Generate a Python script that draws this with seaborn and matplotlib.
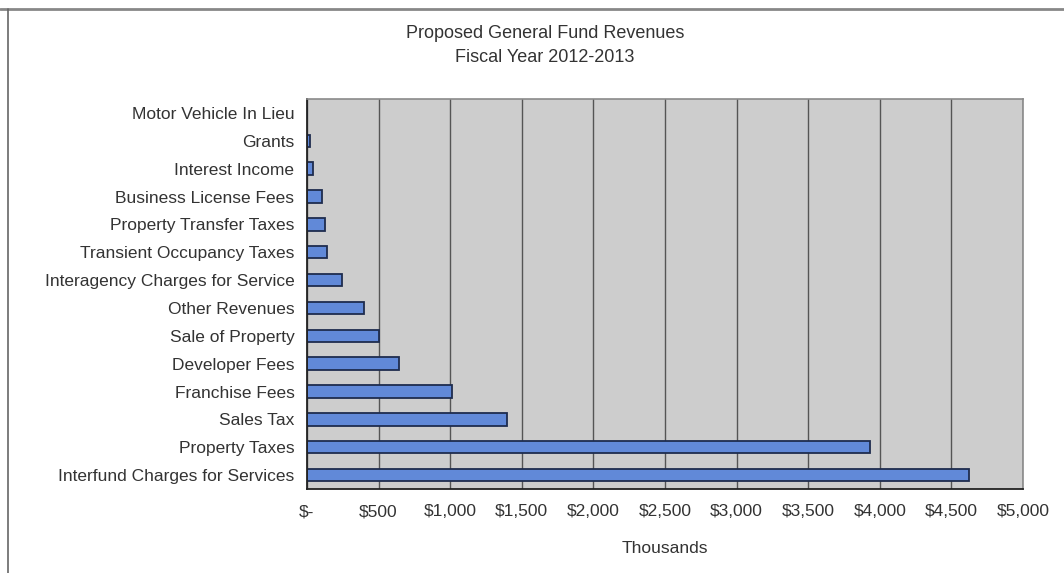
import matplotlib
matplotlib.use("Agg")
import matplotlib.pyplot as plt
from matplotlib.lines import Line2D
from matplotlib.ticker import FixedLocator
import seaborn as sns
import pandas as pd
import numpy as np

# Revenue sources (top to bottom) and proposed amounts, in thousands of dollars
categories = [
    "Motor Vehicle In Lieu",
    "Grants",
    "Interest Income",
    "Business License Fees",
    "Property Transfer Taxes",
    "Transient Occupancy Taxes",
    "Interagency Charges for Service",
    "Other Revenues",
    "Sale of Property",
    "Developer Fees",
    "Franchise Fees",
    "Sales Tax",
    "Property Taxes",
    "Interfund Charges for Services",
]
amounts = [2, 21, 42, 105, 126, 140, 244, 398, 503, 642, 1013, 1395, 3931, 4623]

x_ticks = [0, 500, 1000, 1500, 2000, 2500, 3000, 3500, 4000, 4500, 5000]
x_tick_labels = ["$-", "$500", "$1,000", "$1,500", "$2,000", "$2,500",
                 "$3,000", "$3,500", "$4,000", "$4,500", "$5,000"]

title_lines = ["Proposed General Fund Revenues", "Fiscal Year 2012-2013"]
x_label = "Thousands"

df = pd.DataFrame({"source": categories, "amount": amounts})

sns.set_style("white")
plt.rcParams["font.family"] = ["Liberation Sans", "DejaVu Sans"]

fig = plt.figure(figsize=(10.64, 5.73), dpi=100)
ax = fig.add_axes([0.2885, 0.1466, 0.6730, 0.6806])

sns.barplot(data=df, x="amount", y="source", orient="h", ax=ax,
            color="#6189d8", edgecolor="#1e2c4e", linewidth=1.3,
            width=0.45, saturation=1)

ax.set_facecolor("#cdcdcd")
ax.set_xlim(0, 5000)
ax.set_ylim(len(categories) - 0.5, -0.5)

# vertical gridlines behind bars
ax.set_axisbelow(True)
ax.xaxis.grid(True, color="#555555", linewidth=1.0)
ax.yaxis.grid(False)

ax.set_xticks(x_ticks)
ax.set_xticklabels(x_tick_labels, fontsize=12.5, color="#333333")
ax.tick_params(axis="x", direction="out", length=5, width=1, color="#444444", pad=6)

# category labels at bar centres, tick marks on category boundaries
ax.tick_params(axis="y", which="major", length=0, pad=9, labelsize=12.5, labelcolor="#333333")
ax.yaxis.set_minor_locator(FixedLocator(np.arange(-0.5, len(categories), 1.0)))
ax.tick_params(axis="y", which="minor", direction="out", length=5, width=1, color="#444444")

ax.set_xlabel(x_label, fontsize=12.5, color="#333333", labelpad=16)
ax.set_ylabel("")

for side in ["left", "bottom"]:
    ax.spines[side].set_color("#222222")
    ax.spines[side].set_linewidth(1.3)
for side in ["top", "right"]:
    ax.spines[side].set_color("#8a8a8a")
    ax.spines[side].set_linewidth(1.2)

fig.text(545 / 1064, 1 - 34 / 573, title_lines[0], ha="center", va="center",
         fontsize=13, color="#333333")
fig.text(545 / 1064, 1 - 58 / 573, title_lines[1], ha="center", va="center",
         fontsize=13, color="#333333")

# outer chart frame
fig.add_artist(Line2D([0, 1], [1 - 9 / 573, 1 - 9 / 573], color="#888888", linewidth=2))
fig.add_artist(Line2D([8 / 1064, 8 / 1064], [0, 1 - 9 / 573], color="#666666", linewidth=1.2))

fig.savefig("out.png", dpi=100, facecolor="white")
